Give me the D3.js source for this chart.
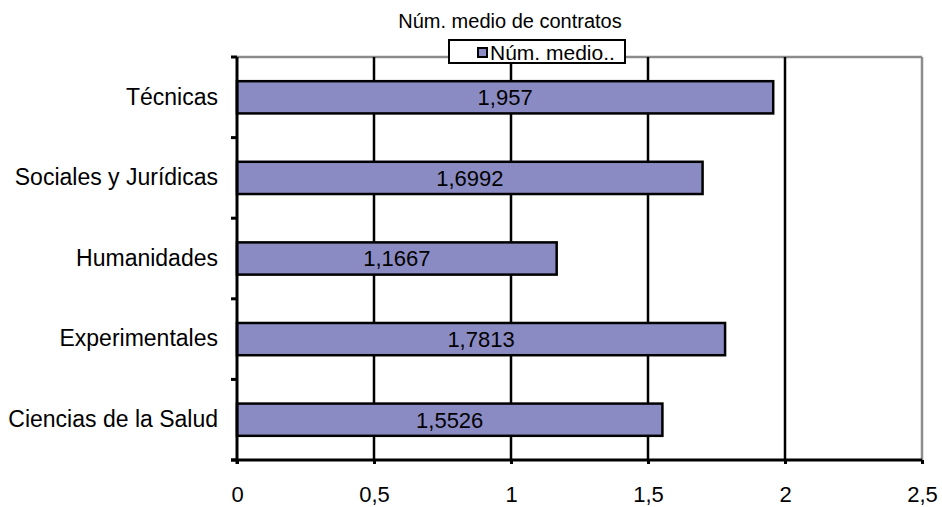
<!DOCTYPE html>
<html><head><meta charset="utf-8">
<script src="https://cdn.jsdelivr.net/npm/d3@7"></script>
<style>body{margin:0;background:#fff}svg{display:block}text{font-family:Arial,"Liberation Sans",sans-serif}</style>
</head><body>
<svg id="c" width="942" height="507"></svg>
<script>
const title = "Núm. medio de contratos";
const legendLabel = "Núm. medio..";
const categories = ["Técnicas","Sociales y Jurídicas","Humanidades","Experimentales","Ciencias de la Salud"];
const values = [1.957, 1.6992, 1.1667, 1.7813, 1.5526];
const valueLabels = ["1,957","1,6992","1,1667","1,7813","1,5526"];
const xTicks = [0, 0.5, 1, 1.5, 2, 2.5];
const xTickLabels = ["0","0,5","1","1,5","2","2,5"];

const FF = "Arial,'Liberation Sans',sans-serif";
const svg = d3.select("#c");
const L = 237, R = 922, T = 57, B = 460;
const x = d3.scaleLinear().domain([0, 2.5]).range([L, R]);
const y = d3.scaleBand().domain(categories).range([T, B]).paddingInner(0.6).paddingOuter(0.3);
const yb = d3.scaleBand().domain(categories).range([T, B]);

// plot border (gray top/right)
svg.append("line").attr("x1", L).attr("x2", R).attr("y1", T).attr("y2", T).attr("stroke", "#8c8c8c").attr("stroke-width", 2.5);
svg.append("line").attr("x1", R).attr("x2", R).attr("y1", T).attr("y2", B).attr("stroke", "#8c8c8c").attr("stroke-width", 2.5);

// gridlines
svg.append("g").selectAll("line").data(xTicks.filter(d => d > 0 && d < 2.5)).join("line")
  .attr("x1", d => x(d)).attr("x2", d => x(d)).attr("y1", T).attr("y2", B)
  .attr("stroke", "#000").attr("stroke-width", 2.5);

// bars
svg.append("g").selectAll("rect").data(values).join("rect")
  .attr("x", x(0)).attr("y", (d, i) => y(categories[i]))
  .attr("width", d => x(d) - x(0)).attr("height", y.bandwidth())
  .attr("fill", "#8b8bc3").attr("stroke", "#000").attr("stroke-width", 2.5);

// value labels
svg.append("g").selectAll("text").data(values).join("text")
  .attr("x", d => (x(0) + x(d)) / 2).attr("y", (d, i) => y(categories[i]) + y.bandwidth() / 2)
  .attr("dy", "0.36em").attr("text-anchor", "middle").attr("font-size", 22).attr("fill", "#000")
  .text((d, i) => valueLabels[i]);

// x axis
const xAxis = d3.axisBottom(x).tickValues(xTicks).tickFormat((d, i) => xTickLabels[i]).tickSize(6).tickPadding(14);
const gx = svg.append("g").attr("transform", `translate(0,${B})`).call(xAxis);
gx.select(".domain").attr("stroke", "#000").attr("stroke-width", 3).attr("d", `M${L-6},0H${R}`);
gx.selectAll(".tick line").attr("stroke", "#000").attr("stroke-width", 3).attr("y2", 4);
gx.selectAll(".tick text").attr("font-size", 22).attr("fill", "#000").attr("font-family", FF)
  .attr("y", 42).attr("dy", null);

// y axis
const yAxis = d3.axisLeft(yb).tickSize(0).tickPadding(19);
const gy = svg.append("g").attr("transform", `translate(${L},0)`).call(yAxis);
gy.select(".domain").attr("stroke", "#000").attr("stroke-width", 3).attr("d", `M0,${T}V${B+4}`);
gy.selectAll(".tick text").attr("font-size", 23).attr("fill", "#000").attr("font-family", FF);
// category boundary ticks
const bounds = categories.map(c => yb(c)).concat([B]);
svg.append("g").selectAll("line").data(bounds).join("line")
  .attr("x1", L - 6).attr("x2", L).attr("y1", d => d).attr("y2", d => d)
  .attr("stroke", "#000").attr("stroke-width", 3);

// title
svg.append("text").attr("x", 510).attr("y", 28).attr("text-anchor", "middle").attr("font-size", 20).attr("fill", "#000").text(title);

// legend
const lg = svg.append("g");
lg.append("rect").attr("x", 449).attr("y", 40).attr("width", 176).attr("height", 23).attr("fill", "#fff").attr("stroke", "#000").attr("stroke-width", 2);
lg.append("rect").attr("x", 478).attr("y", 48).attr("width", 9).attr("height", 9).attr("fill", "#8b8bc3").attr("stroke", "#000").attr("stroke-width", 2);
lg.append("text").attr("x", 490).attr("y", 60).attr("font-size", 21).attr("fill", "#000").text(legendLabel);
</script>
</body></html>
